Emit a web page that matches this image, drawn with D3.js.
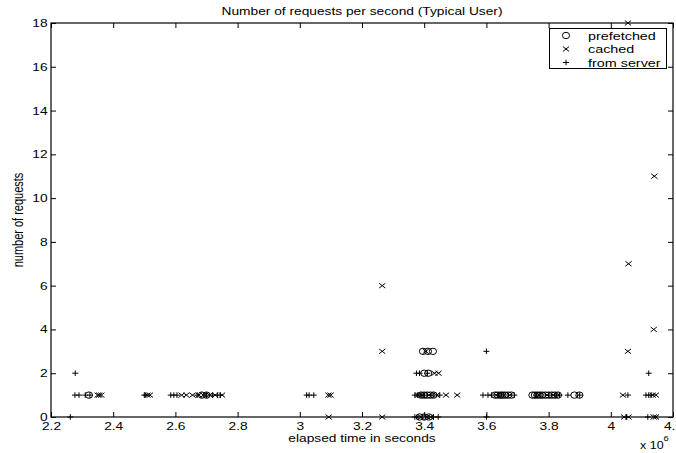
<!DOCTYPE html>
<html>
<head>
<meta charset="utf-8">
<script src="https://cdn.jsdelivr.net/npm/d3@7"></script>
<style>
	body { margin: 0; background: #fff; }
	svg { display: block; }
	text { font-family: "Liberation Sans", Arial, Helvetica, sans-serif; fill: #000; }
</style>
</head>
<body>
<div id="chart"></div>
<script>

// elapsed time (seconds), number of requests in that second
var prefetched = [
	[2.322e6, 1],
	[2.685e6, 1], [2.700e6, 1],
	[3.396e6, 3], [3.412e6, 3], [3.428e6, 3],
	[3.400e6, 2], [3.413e6, 2],
	[3.390e6, 1], [3.400e6, 1], [3.410e6, 1], [3.420e6, 1], [3.430e6, 1],
	[3.385e6, 0], [3.400e6, 0], [3.415e6, 0],
	[3.628e6, 1], [3.636e6, 1], [3.645e6, 1], [3.652e6, 1], [3.660e6, 1], [3.670e6, 1], [3.680e6, 1],
	[3.748e6, 1], [3.756e6, 1], [3.764e6, 1], [3.772e6, 1], [3.780e6, 1], [3.790e6, 1],
	[3.800e6, 1], [3.810e6, 1], [3.820e6, 1], [3.830e6, 1], [3.883e6, 1], [3.899e6, 1]
];

var cached = [
	[2.350e6, 1], [2.355e6, 1], [2.362e6, 1],
	[2.510e6, 1], [2.518e6, 1],
	[2.620e6, 1], [2.635e6, 1], [2.655e6, 1], [2.675e6, 1], [2.690e6, 1], [2.710e6, 1], [2.728e6, 1], [2.750e6, 1],
	[3.092e6, 1], [3.099e6, 1], [3.093e6, 0],
	[3.265e6, 0], [3.265e6, 3], [3.265e6, 6],
	[3.405e6, 3], [3.433e6, 2], [3.446e6, 2],
	[3.380e6, 1], [3.390e6, 1], [3.395e6, 1], [3.415e6, 1], [3.440e6, 1], [3.470e6, 1], [3.506e6, 1],
	[3.390e6, 0], [3.410e6, 0], [3.420e6, 0],
	[3.632e6, 1], [3.655e6, 1], [3.675e6, 1],
	[3.770e6, 1], [3.795e6, 1], [3.815e6, 1],
	[4.039e6, 1], [4.043e6, 0], [4.057e6, 0], [4.055e6, 3], [4.057e6, 7], [4.055e6, 18],
	[4.135e6, 1], [4.145e6, 1], [4.138e6, 0], [4.145e6, 0], [4.138e6, 4], [4.140e6, 11]
];

var fromServer = [
	[2.262e6, 0], [2.278e6, 2],
	[2.277e6, 1], [2.290e6, 1], [2.310e6, 1], [2.325e6, 1],
	[2.500e6, 1], [2.505e6, 1],
	[2.585e6, 1], [2.595e6, 1], [2.605e6, 1], [2.670e6, 1], [2.700e6, 1], [2.720e6, 1], [2.735e6, 1], [2.745e6, 1],
	[3.022e6, 1], [3.030e6, 1], [3.045e6, 1],
	[3.375e6, 2], [3.385e6, 2], [3.410e6, 2],
	[3.370e6, 1], [3.378e6, 1], [3.400e6, 1], [3.425e6, 1], [3.450e6, 1],
	[3.370e6, 0], [3.380e6, 0], [3.430e6, 0], [3.445e6, 0],
	[3.600e6, 3], [3.589e6, 1], [3.605e6, 1], [3.616e6, 1], [3.640e6, 1], [3.690e6, 1], [3.600e6, 0],
	[3.760e6, 1], [3.800e6, 1], [3.825e6, 1], [3.835e6, 1], [3.862e6, 1], [3.900e6, 1],
	[4.055e6, 1], [4.050e6, 0],
	[4.113e6, 1], [4.122e6, 1], [4.130e6, 1], [4.122e6, 2], [4.119e6, 0]
];

var xTicks = [2.2e6, 2.4e6, 2.6e6, 2.8e6, 3.0e6, 3.2e6, 3.4e6, 3.6e6, 3.8e6, 4.0e6, 4.2e6];
var yTicks = [0, 2, 4, 6, 8, 10, 12, 14, 16, 18];
var legendLabels = ['prefetched', 'cached', 'from server'];

(function() {

	var W = 676, H = 453;
	var pLeft = 51, pRight = 673, pTop = 23, pBottom = 417;
	var sx = 1.25; // the original figure is stretched sideways

	var markers = {
		circle: 'M-3.6,0A3.6,3.2 0 1,0 3.6,0A3.6,3.2 0 1,0 -3.6,0',
		cross: 'M-3.1,-2.4L3.1,2.4M-3.1,2.4L3.1,-2.4',
		plus: 'M-3,0H3M0,-2.8V2.8'
	};

	var svg = d3.select('#chart').append('svg')
		.attr('width', W)
		.attr('height', H);

	var x = d3.scaleLinear().domain([2.2e6, 4.2e6]).range([pLeft, pRight]);
	var y = d3.scaleLinear().domain([0, 18]).range([pBottom, pTop]);

	var fmt = function(d) { return String(+(d / 1e6).toFixed(1)); };

	function stretch(sel) {
		sel.selectAll('text')
			.style('font-size', '11px')
			.attr('transform', 'scale(' + sx + ',1)');
	}

	// axes, ticks pointing inwards like matlab
	svg.append('g')
		.attr('transform', 'translate(0,' + pBottom + ')')
		.call(d3.axisBottom(x).tickValues(xTicks).tickFormat(fmt).tickSizeInner(-5).tickSizeOuter(0).tickPadding(5))
		.call(stretch);

	svg.append('g')
		.attr('transform', 'translate(0,' + pTop + ')')
		.call(d3.axisTop(x).tickValues(xTicks).tickFormat('').tickSizeInner(-5).tickSizeOuter(0));

	svg.append('g')
		.attr('transform', 'translate(' + pLeft + ',0)')
		.call(d3.axisLeft(y).tickValues(yTicks).tickSizeInner(-5).tickSizeOuter(0).tickPadding(2.7))
		.call(stretch);

	svg.append('g')
		.attr('transform', 'translate(' + pRight + ',0)')
		.call(d3.axisRight(y).tickValues(yTicks).tickFormat('').tickSizeInner(-5).tickSizeOuter(0));

	svg.selectAll('.domain').remove();
	svg.selectAll('.tick line').style('stroke', '#000').style('stroke-width', 1);

	svg.append('rect')
		.attr('x', pLeft)
		.attr('y', pTop)
		.attr('width', pRight - pLeft)
		.attr('height', pBottom - pTop)
		.style('fill', 'none')
		.style('stroke', '#000')
		.style('stroke-width', 1.2);

	// points
	var plot = svg.append('g');

	function drawSeries(data, shape) {
		plot.append('g').selectAll('path')
			.data(data)
			.enter().append('path')
			.attr('transform', function(d) { return 'translate(' + x(d[0]) + ',' + y(d[1]) + ')'; })
			.attr('d', markers[shape])
			.style('fill', 'none')
			.style('stroke', '#000')
			.style('stroke-width', 1);
	}

	drawSeries(prefetched, 'circle');
	drawSeries(cached, 'cross');
	drawSeries(fromServer, 'plus');

	// labels
	svg.append('text')
		.attr('transform', 'translate(' + ((pLeft + pRight) / 2) + ',15) scale(' + sx + ',1)')
		.attr('text-anchor', 'middle')
		.style('font-size', '11px')
		.text('Number of requests per second (Typical User)');

	svg.append('text')
		.attr('transform', 'translate(' + ((pLeft + pRight) / 2) + ',442) scale(' + sx + ',1)')
		.attr('text-anchor', 'middle')
		.style('font-size', '11px')
		.text('elapsed time in seconds');

	svg.append('text')
		.attr('transform', 'translate(23,' + ((pTop + pBottom) / 2) + ') scale(' + sx + ',1) rotate(-90)')
		.attr('text-anchor', 'middle')
		.style('font-size', '11px')
		.text('number of requests');

	var expo = svg.append('text')
		.attr('transform', 'translate(640,449) scale(' + sx + ',1)')
		.style('font-size', '10px');
	expo.append('tspan').text('x 10');
	expo.append('tspan')
		.attr('dy', -8)
		.style('font-size', '7.5px')
		.text('6');

	// legend
	var legend = svg.append('g');

	legend.append('rect')
		.attr('x', 549.5)
		.attr('y', 28.5)
		.attr('width', 117)
		.attr('height', 40)
		.style('fill', '#fff')
		.style('stroke', '#000')
		.style('stroke-width', 1);

	var shapes = ['circle', 'cross', 'plus'];
	var rowY = [35.5, 49, 62.5];

	legendLabels.forEach(function(label, i) {
		legend.append('path')
			.attr('transform', 'translate(566,' + rowY[i] + ')')
			.attr('d', markers[shapes[i]])
			.style('fill', 'none')
			.style('stroke', '#000')
			.style('stroke-width', 1);

		legend.append('text')
			.attr('transform', 'translate(588,' + (rowY[i] + 4) + ') scale(' + sx + ',1)')
			.style('font-size', '11.5px')
			.text(label);
	});

})();

</script>
</body>
</html>
